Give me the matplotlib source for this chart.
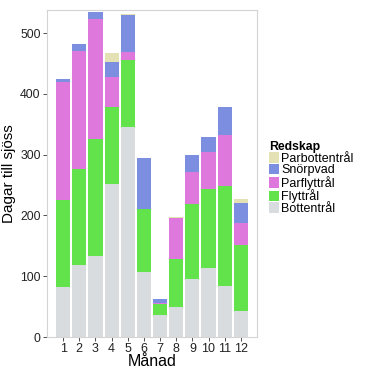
import matplotlib
matplotlib.use("Agg")
import matplotlib.pyplot as plt
import numpy as np
from matplotlib.patches import Patch

plt.rcParams['font.family'] = ['Liberation Sans', 'DejaVu Sans']

months = [str(m) for m in range(1, 13)]
bottentral    = [82, 118, 133, 251, 345, 107, 36, 49, 95, 113, 84, 43]
flyttral      = [144, 158, 193, 127, 110, 103, 18, 79, 123, 130, 164, 108]
parflyttral   = [193, 195, 197, 50, 14, 0, 2, 68, 54, 61, 84, 36]
snorpvad      = [6, 11, 12, 24, 60, 84, 7, 0, 27, 25, 46, 33]
parbottentral = [0, 0, 0, 15, 3, 0, 0, 1, 0, 0, 0, 7]

series = [
    ("Bottentrål", bottentral, "#d8dcde"),
    ("Flyttrål", flyttral, "#62e34c"),
    ("Parflyttrål", parflyttral, "#de78dc"),
    ("Snörpvad", snorpvad, "#7b8ee0"),
    ("Parbottentrål", parbottentral, "#e4e2b4"),
]

fig = plt.figure(figsize=(3.73, 3.73), dpi=100)
ax = fig.add_axes([47/373, 1-337/373, (257-47)/373, (337-10)/373])

x = np.arange(1, 13)
bottom = np.zeros(12)
for name, vals, col in series:
    v = np.array(vals, dtype=float)
    ax.bar(x, v, bottom=bottom, width=0.88, color=col, linewidth=0)
    bottom += v

ax.set_xlim(0.0, 13.0)
ax.set_ylim(0, 538)
ax.set_xticks(x)
ax.set_xticklabels(months, fontsize=9, color="#222222")
ax.set_yticks([0, 100, 200, 300, 400, 500])
ax.tick_params(axis='y', labelsize=8.8, colors="#333333", length=3, width=0.6, pad=1.5, labelcolor="#222222")
ax.tick_params(axis='x', colors="#333333", length=3, width=0.6, pad=1.5, labelcolor="#222222")
for s in ax.spines.values():
    s.set_color("#d4d4d4")
    s.set_linewidth(0.8)
ax.set_xlabel("Månad", fontsize=11.5, labelpad=-1)
ax.set_ylabel("Dagar till sjöss", fontsize=11, labelpad=3)

handles = [Patch(facecolor=col, edgecolor='none', label=name) for name, vals, col in series[::-1]]
leg = fig.legend(handles=handles, title="Redskap", loc='upper left',
                 bbox_to_anchor=(260/373, 1-132/373), frameon=False,
                 fontsize=9, title_fontsize=8.8, handlelength=0.85, handleheight=0.9,
                 handletextpad=0.15, labelspacing=-0.05, borderpad=0.2, alignment='left')
leg.get_title().set_fontweight('bold')

fig.savefig("out.png", dpi=100, facecolor="white")
